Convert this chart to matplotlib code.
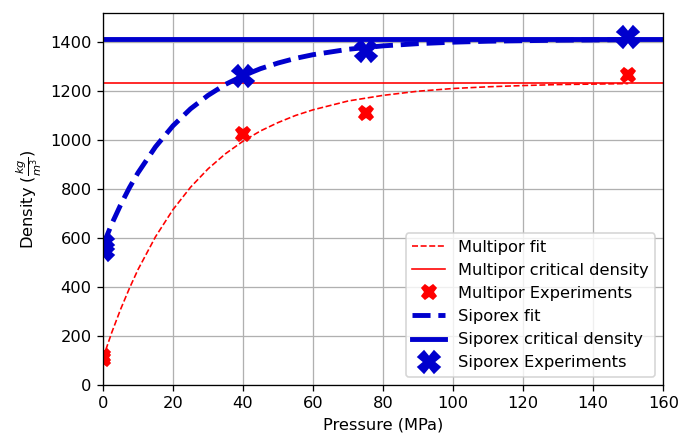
import matplotlib
matplotlib.use("Agg")
import matplotlib.pyplot as plt
import numpy as np

# fit curves
fit_pressure = [0, 2.5, 5, 7.5, 10, 15, 20, 25, 30, 35, 40, 45, 50, 55, 60,
                70, 80, 90, 100, 110, 120, 130, 140, 150]
multipor_fit = [110, 214, 308, 393, 471, 605, 716, 807, 882, 944, 995, 1037,
                1071, 1100, 1123, 1159, 1182, 1199, 1210, 1217, 1222, 1226,
                1228, 1230]
siporex_fit = [570, 657, 734, 804, 866, 972, 1058, 1127, 1182, 1227, 1262,
               1291, 1314, 1333, 1348, 1370, 1384, 1393, 1399, 1403, 1405,
               1407, 1408, 1409]

multipor_critical = 1233
siporex_critical = 1410

# experiments
multipor_p = [0, 0, 40, 75, 150]
multipor_rho = [105, 120, 1024, 1110, 1265]
siporex_p = [0, 0, 40, 75, 150]
siporex_rho = [552, 575, 1263, 1362, 1422]

DPI = 117


def chart_density() -> None:
    fig = plt.figure(figsize=(693 / DPI, 434 / DPI), dpi=DPI)
    ax = fig.add_axes([0.1486, 0.1129, 0.8085, 0.8571])

    ax.plot(fit_pressure, multipor_fit, "r--", lw=1, label="Multipor fit")
    ax.axhline(multipor_critical, color="r", lw=1, label="Multipor critical density")
    ax.plot(multipor_p, multipor_rho, "X", color="r", ms=9, ls="none",
            label="Multipor Experiments")
    ax.plot(fit_pressure, siporex_fit, "--", color="mediumblue", lw=3,
            label="Siporex fit")
    ax.axhline(siporex_critical, color="mediumblue", lw=3,
               label="Siporex critical density")
    ax.plot(siporex_p, siporex_rho, "X", color="mediumblue", ms=13, ls="none",
            label="Siporex Experiments")

    ax.set_xlim(0, 160)
    ax.set_ylim(0, 1518)
    ax.grid(True)
    ax.set_xlabel("Pressure (MPa)")
    ax.set_ylabel(r"Density ($\frac{kg}{m^3}$)")
    ax.legend(loc="lower right")

    fig.savefig("out.png", dpi=DPI)


if __name__ == "__main__":
    chart_density()
